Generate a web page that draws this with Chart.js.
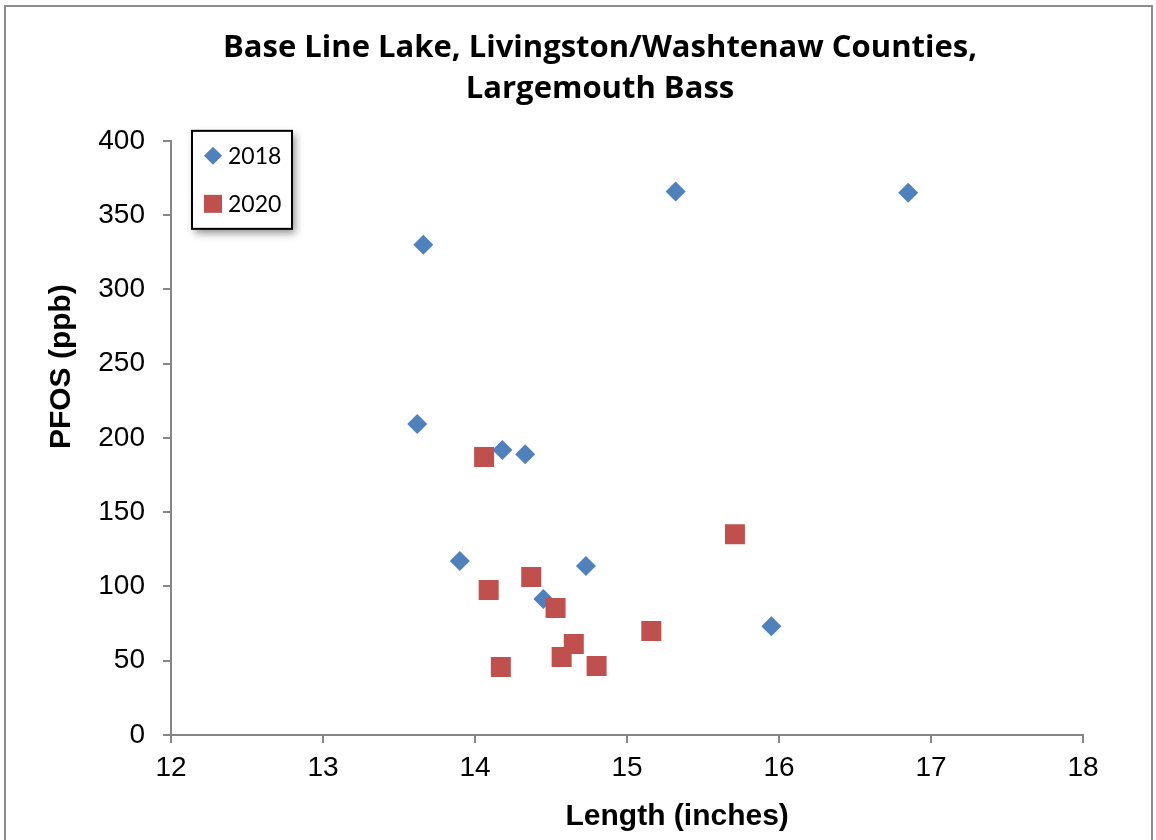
<!DOCTYPE html>
<html lang="en">
<head>
<meta charset="utf-8">
<title>Base Line Lake - Largemouth Bass PFOS</title>
<script src="https://cdn.jsdelivr.net/npm/chart.js@4"></script>
<style>
  html, body { margin: 0; padding: 0; background: #fff; overflow: hidden; }
  #wrap { position: relative; width: 1156px; height: 840px; }
  #frame { position: absolute; left: 4px; top: 5px; width: 1145px; height: 860px;
           border: 2px solid #8c8c8c; pointer-events: none; }
</style>
</head>
<body>
<div id="wrap">
  <canvas id="pfosChart" width="1156" height="840"></canvas>
  <div id="frame"></div>
</div>
<script>
// chart text
const chartTitle = ['Base Line Lake, Livingston/Washtenaw Counties,', 'Largemouth Bass'];
const xTitle = 'Length (inches)';
const yTitle = 'PFOS (ppb)';

// 2018 samples: length (in) and PFOS (ppb)
const len2018  = [13.66, 15.32, 16.85, 13.62, 14.18, 14.33, 13.90, 14.73, 14.45, 15.95];
const pfos2018 = [330.0, 365.9, 365.1, 209.4, 191.9, 189.0, 117.2, 113.8, 91.6, 73.2];

// 2020 samples
const len2020  = [14.06, 14.09, 14.37, 14.53, 14.57, 14.65, 14.17, 14.80, 15.16, 15.71];
const pfos2020 = [187.2, 97.6, 106.4, 85.5, 52.5, 61.3, 45.8, 46.5, 70.0, 135.2];

// axis ranges
const xMin = 12, xMax = 18, xStep = 1;
const yMin = 0, yMax = 400, yStep = 50;

function toPoints(xs, ys) {
  return xs.map((x, i) => ({ x: x, y: ys[i] }));
}

const axisGray = '#868686';
const tickFont = { family: '"Liberation Sans", Arial, sans-serif', size: 28 };

// legend box drawn inside the plot, like the Excel one
const boxLegend = {
  id: 'boxLegend',
  afterDraw(chart) {
    const ctx = chart.ctx;
    const area = chart.chartArea;
    const left = area.left + 21, top = area.top - 10, w = 100, h = 98;
    ctx.save();
    ctx.shadowColor = 'rgba(0,0,0,0.45)';
    ctx.shadowBlur = 8;
    ctx.shadowOffsetX = 3;
    ctx.shadowOffsetY = 4;
    ctx.fillStyle = '#fff';
    ctx.fillRect(left, top, w, h);
    ctx.restore();

    ctx.save();
    ctx.lineWidth = 2;
    ctx.strokeStyle = '#000';
    ctx.strokeRect(left, top, w, h);
    ctx.font = '23px Lato, "Open Sans", sans-serif';
    ctx.textBaseline = 'middle';
    chart.data.datasets.forEach((ds, i) => {
      const cx = left + 21, cy = top + 25 + i * 48, half = 9;
      ctx.fillStyle = ds.backgroundColor;
      ctx.beginPath();
      if (ds.pointStyle === 'rectRot') {
        ctx.moveTo(cx - half, cy);
        ctx.lineTo(cx, cy - half);
        ctx.lineTo(cx + half, cy);
        ctx.lineTo(cx, cy + half);
        ctx.closePath();
      } else {
        ctx.rect(cx - half, cy - half, half * 2, half * 2);
      }
      ctx.fill();
      ctx.fillStyle = '#000';
      ctx.fillText(ds.label, left + 36, cy + 1);
    });
    ctx.restore();
  }
};

// axis titles sit off-centre in the original, so place them by hand
const axisTitles = {
  id: 'axisTitles',
  afterDraw(chart) {
    const ctx = chart.ctx;
    const area = chart.chartArea;
    ctx.save();
    ctx.fillStyle = '#000';
    ctx.font = 'bold 30px "Liberation Sans", Arial, sans-serif';
    ctx.textAlign = 'center';
    ctx.textBaseline = 'alphabetic';
    ctx.fillText(xTitle, area.left + (area.right - area.left) * 0.555, 825);

    ctx.translate(70, area.top + (area.bottom - area.top) * 0.38);
    ctx.rotate(-Math.PI / 2);
    ctx.fillText(yTitle, 0, 0);
    ctx.restore();
  }
};

new Chart(document.getElementById('pfosChart'), {
  type: 'scatter',
  data: {
    datasets: [{
      label: '2018',
      data: toPoints(len2018, pfos2018),
      pointStyle: 'rectRot',
      pointRadius: 10,
      pointHoverRadius: 10,
      backgroundColor: '#4F81BD',
      borderColor: '#4F81BD',
      borderWidth: 0,
      order: 2
    }, {
      label: '2020',
      data: toPoints(len2020, pfos2020),
      pointStyle: 'rect',
      pointRadius: 14.14,
      pointHoverRadius: 14.14,
      backgroundColor: '#C0504D',
      borderColor: '#C0504D',
      borderWidth: 0,
      order: 1
    }]
  },
  options: {
    responsive: false,
    animation: false,
    layout: { padding: { top: 6, left: 44, right: 0, bottom: 0 } },
    plugins: {
      legend: { display: false },
      tooltip: { enabled: false },
      title: {
        display: true,
        text: chartTitle,
        color: '#000',
        font: { family: '"Open Sans", Lato, sans-serif', size: 31, weight: 'bold', lineHeight: 1.32 },
        padding: { top: 22, bottom: 31 }
      }
    },
    scales: {
      x: {
        type: 'linear',
        min: xMin,
        max: xMax,
        afterFit(scale) { scale.height = 105; },
        ticks: { stepSize: xStep, color: '#000', font: tickFont, padding: 8 },
        grid: { drawOnChartArea: false, drawTicks: true, tickLength: 8, color: axisGray, lineWidth: 2 },
        border: { display: true, color: axisGray, width: 2 }
      },
      y: {
        type: 'linear',
        min: yMin,
        max: yMax,
        afterFit(scale) { scale.width = 127; },
        ticks: { stepSize: yStep, color: '#000', font: tickFont, padding: 18 },
        grid: { drawOnChartArea: false, drawTicks: true, tickLength: 8, color: axisGray, lineWidth: 2 },
        border: { display: true, color: axisGray, width: 2 }
      },
      // empty spacer on the right so the plot ends where the original does
      spacer: {
        type: 'linear',
        axis: 'y',
        position: 'right',
        min: 0,
        max: 1,
        afterFit(scale) { scale.width = 73; },
        ticks: { display: false },
        grid: { display: false },
        border: { display: false }
      }
    }
  },
  plugins: [boxLegend, axisTitles]
});
</script>
</body>
</html>
